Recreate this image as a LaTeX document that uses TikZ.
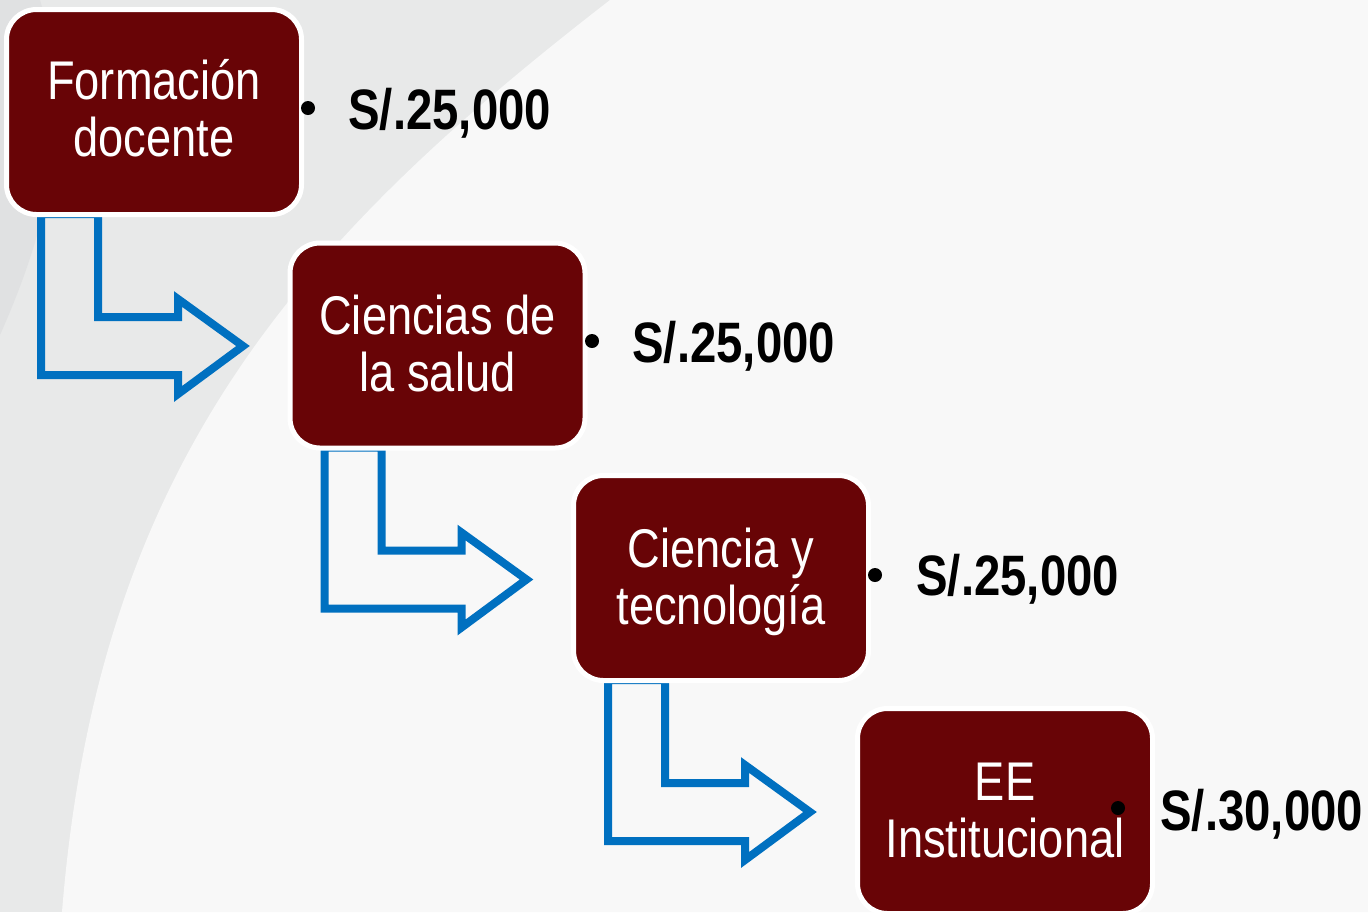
\documentclass[tikz,border=0pt]{standalone}
\usepackage{fontspec}
\setmainfont{Liberation Sans}[FakeStretch=0.83]
\usetikzlibrary{calc}
\definecolor{boxred}{RGB}{104,4,6}
\definecolor{arrowblue}{RGB}{0,112,192}
\definecolor{bggray}{RGB}{232,233,233}
\definecolor{bglight}{RGB}{248,248,248}
\definecolor{bgdark}{RGB}{224,225,226}
\pgfdeclarelayer{back}
\pgfdeclarelayer{mid}
\pgfsetlayers{back,mid,main}
\newcommand\stackedlines[2]{\vtop{\halign{\hfil##\hfil\cr #1\cr #2\cr}}}
\begin{document}
\begin{tikzpicture}[x=0.5pt,y=-0.5pt,
  stage/.style={rectangle, rounded corners=15pt, fill=boxred, draw=white, line width=2.5pt,
    minimum width=147.5pt, minimum height=102.5pt, inner sep=0pt},
  stagetext/.style={anchor=base, inner sep=0pt, text=white,
    font=\fontsize{27.25pt}{28.5pt}\selectfont},
  price/.style={anchor=base west, inner sep=0pt, text=black,
    font=\fontsize{28.5pt}{30pt}\selectfont\bfseries},
  dot/.style={circle, fill=black, inner sep=0pt, minimum size=7pt},
  bentarrow/.style={draw=arrowblue, line width=4pt, miter limit=10}]
\useasboundingbox (0,0) rectangle (1368,912);
\begin{pgfonlayer}{back}
  \fill[bggray] (0,0) rectangle (1368,912);
  \fill[bgdark] (0,0) -- (40,0) .. controls (70,100) and (60,200) .. (0,335) -- cycle;
  \fill[bglight] (610,0) .. controls (300,240) and (98,462) .. (62,912) -- (1368,912) -- (1368,0) -- cycle;
\end{pgfonlayer}

\node[stage] (f1) at (154,112) {};
\node[stage] (f2) at (437.5,345.5) {};
\node[stage] (f3) at (721,578) {};
\node[stage] (f4) at (1005,811) {};

\node[stagetext] (t1) at ($(f1.center)+(0,-12.5)$) {\stackedlines{Formación}{docente}};
\node[stagetext] (t2) at ($(f2.center)+(0,-11)$) {\stackedlines{Ciencias de}{la salud}};
\node[stagetext] (t3) at ($(f3.center)+(0,-11)$) {\stackedlines{Ciencia y}{tecnología}};
\node[stagetext] (t4) at ($(f4.center)+(0,-11)$) {\stackedlines{EE}{Institucional}};

\begin{pgfonlayer}{mid}
  \foreach \src in {f1,f2,f3}{
    \begin{scope}[shift={(\src.center)}]
      \draw[bentarrow] (-113,102) -- (-56,102) -- (-56,205) -- (24,205) -- (24,187)
        -- (89,234) -- (24,282) -- (24,263) -- (-113,263) -- cycle;
    \end{scope}
  }
\end{pgfonlayer}

\node[dot] (d1) at (308,108) {};
\node[dot] (d2) at (592,341) {};
\node[dot] (d3) at (875,575) {};
\node[dot] (d4) at (1118,808) {};

\node[price] (p1) at (348,129) {S/.25,000};
\node[price] (p2) at (632,362) {S/.25,000};
\node[price] (p3) at (916,595) {S/.25,000};
\node[price] (p4) at (1160,830) {S/.30,000};
\end{tikzpicture}
\end{document}
